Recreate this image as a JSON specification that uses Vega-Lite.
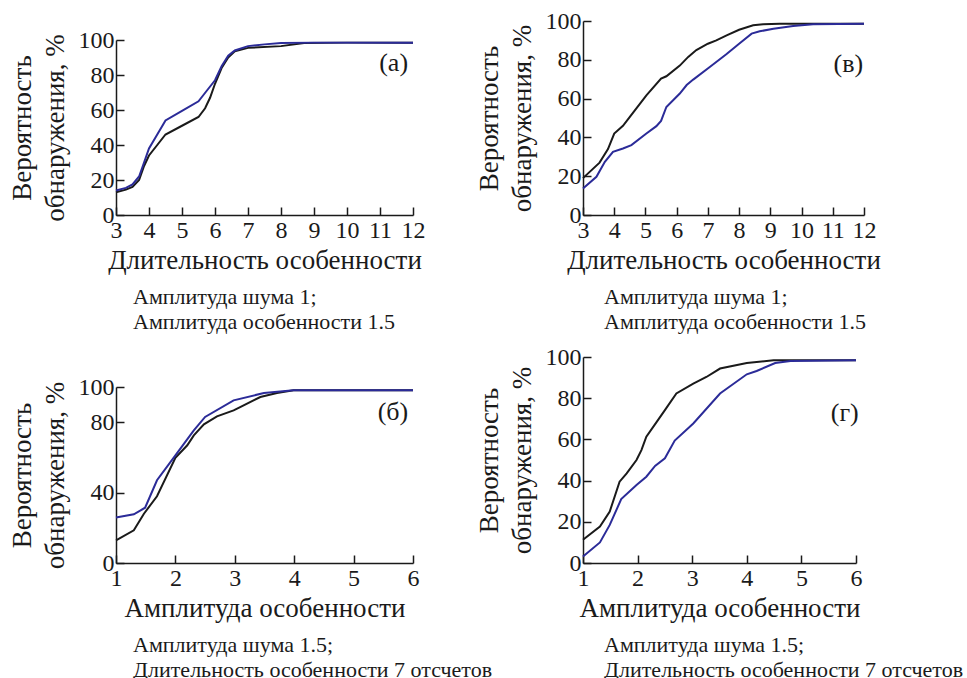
{
  "$schema": "https://vega.github.io/schema/vega-lite/v6.json",
  "background": "white",
  "padding": {"left": 8, "top": 9, "right": 5, "bottom": 12},
  "config": {
    "font": "Liberation Serif",
    "view": {"stroke": null},
    "axis": {
      "grid": false,
      "domainColor": "#1a1a1a",
      "domainWidth": 1.5,
      "tickColor": "#1a1a1a",
      "tickWidth": 1.5,
      "tickSize": -8,
      "labelOverlap": false,
      "labelFont": "Liberation Serif",
      "labelFontSize": 24,
      "labelColor": "#1a1a1a",
      "titleFont": "Liberation Serif",
      "titleFontSize": 27,
      "titleFontWeight": "normal",
      "titleColor": "#1a1a1a"
    },
    "axisX": {"labelPadding": 11, "titlePadding": 5, "labelFlush": false, "format": "d"},
    "axisY": {"labelPadding": 10, "titlePadding": 9, "titleLineHeight": 33},
    "title": {"font": "Liberation Serif", "fontSize": 22, "fontWeight": "normal", "color": "#1a1a1a", "lineHeight": 25}
  },
  "datasets": {
    "a": [
      {"x": 3, "p": 13, "s": "black"}, {"x": 3.3, "p": 14.5, "s": "black"}, {"x": 3.5, "p": 16, "s": "black"}, {"x": 3.7, "p": 20, "s": "black"}, {"x": 3.85, "p": 28, "s": "black"}, {"x": 4, "p": 34, "s": "black"}, {"x": 4.25, "p": 40, "s": "black"}, {"x": 4.5, "p": 46, "s": "black"}, {"x": 5, "p": 51, "s": "black"}, {"x": 5.5, "p": 56, "s": "black"}, {"x": 5.7, "p": 61, "s": "black"}, {"x": 5.85, "p": 67, "s": "black"}, {"x": 6, "p": 75, "s": "black"}, {"x": 6.2, "p": 84, "s": "black"}, {"x": 6.4, "p": 90, "s": "black"}, {"x": 6.6, "p": 93.5, "s": "black"}, {"x": 7, "p": 95.5, "s": "black"}, {"x": 8, "p": 96.5, "s": "black"}, {"x": 8.7, "p": 98.3, "s": "black"}, {"x": 10, "p": 98.5, "s": "black"}, {"x": 12, "p": 98.5, "s": "black"},
      {"x": 3, "p": 14, "s": "blue"}, {"x": 3.3, "p": 15.5, "s": "blue"}, {"x": 3.5, "p": 17.5, "s": "blue"}, {"x": 3.7, "p": 22, "s": "blue"}, {"x": 3.85, "p": 30, "s": "blue"}, {"x": 4, "p": 38, "s": "blue"}, {"x": 4.25, "p": 46, "s": "blue"}, {"x": 4.5, "p": 54, "s": "blue"}, {"x": 5, "p": 59.5, "s": "blue"}, {"x": 5.5, "p": 65, "s": "blue"}, {"x": 5.75, "p": 71, "s": "blue"}, {"x": 6, "p": 77, "s": "blue"}, {"x": 6.2, "p": 85, "s": "blue"}, {"x": 6.4, "p": 91, "s": "blue"}, {"x": 6.6, "p": 94, "s": "blue"}, {"x": 7, "p": 96.5, "s": "blue"}, {"x": 7.5, "p": 97.5, "s": "blue"}, {"x": 8, "p": 98.3, "s": "blue"}, {"x": 9, "p": 98.5, "s": "blue"}, {"x": 12, "p": 98.5, "s": "blue"}
    ],
    "v": [
      {"x": 3, "p": 19, "s": "black"}, {"x": 3.53, "p": 27, "s": "black"}, {"x": 3.8, "p": 34, "s": "black"}, {"x": 4, "p": 42, "s": "black"}, {"x": 4.28, "p": 46, "s": "black"}, {"x": 4.5, "p": 50.6, "s": "black"}, {"x": 5.03, "p": 61.7, "s": "black"}, {"x": 5.5, "p": 70.3, "s": "black"}, {"x": 5.67, "p": 71.5, "s": "black"}, {"x": 6.1, "p": 77, "s": "black"}, {"x": 6.37, "p": 81.5, "s": "black"}, {"x": 6.63, "p": 85, "s": "black"}, {"x": 7, "p": 88.3, "s": "black"}, {"x": 7.27, "p": 90, "s": "black"}, {"x": 7.6, "p": 92.6, "s": "black"}, {"x": 8, "p": 95.5, "s": "black"}, {"x": 8.45, "p": 97.8, "s": "black"}, {"x": 8.77, "p": 98.3, "s": "black"}, {"x": 9.3, "p": 98.6, "s": "black"}, {"x": 12, "p": 98.6, "s": "black"},
      {"x": 3, "p": 13.7, "s": "blue"}, {"x": 3.43, "p": 19.7, "s": "blue"}, {"x": 3.7, "p": 27.4, "s": "blue"}, {"x": 3.96, "p": 32.6, "s": "blue"}, {"x": 4.28, "p": 34.3, "s": "blue"}, {"x": 4.55, "p": 36, "s": "blue"}, {"x": 5.03, "p": 42, "s": "blue"}, {"x": 5.35, "p": 45.8, "s": "blue"}, {"x": 5.5, "p": 48.5, "s": "blue"}, {"x": 5.67, "p": 55.7, "s": "blue"}, {"x": 6.1, "p": 62.6, "s": "blue"}, {"x": 6.32, "p": 67, "s": "blue"}, {"x": 6.53, "p": 69.8, "s": "blue"}, {"x": 7.06, "p": 76.3, "s": "blue"}, {"x": 7.6, "p": 83, "s": "blue"}, {"x": 8, "p": 88.3, "s": "blue"}, {"x": 8.4, "p": 93.5, "s": "blue"}, {"x": 8.66, "p": 94.7, "s": "blue"}, {"x": 9.1, "p": 96, "s": "blue"}, {"x": 9.73, "p": 97.4, "s": "blue"}, {"x": 10.37, "p": 98.3, "s": "blue"}, {"x": 12, "p": 98.6, "s": "blue"}
    ],
    "b": [
      {"x": 1, "p": 12.9, "s": "black"}, {"x": 1.3, "p": 18.6, "s": "black"}, {"x": 1.47, "p": 28, "s": "black"}, {"x": 1.69, "p": 37.9, "s": "black"}, {"x": 2, "p": 59.8, "s": "black"}, {"x": 2.2, "p": 66.9, "s": "black"}, {"x": 2.31, "p": 72.5, "s": "black"}, {"x": 2.48, "p": 78.8, "s": "black"}, {"x": 2.7, "p": 83.3, "s": "black"}, {"x": 2.98, "p": 86.7, "s": "black"}, {"x": 3.09, "p": 88.6, "s": "black"}, {"x": 3.43, "p": 94.3, "s": "black"}, {"x": 3.71, "p": 96.6, "s": "black"}, {"x": 3.99, "p": 98.1, "s": "black"}, {"x": 6, "p": 98.1, "s": "black"},
      {"x": 1, "p": 25.8, "s": "blue"}, {"x": 1.3, "p": 27.7, "s": "blue"}, {"x": 1.49, "p": 31.4, "s": "blue"}, {"x": 1.69, "p": 47, "s": "blue"}, {"x": 2, "p": 61.2, "s": "blue"}, {"x": 2.31, "p": 75.4, "s": "blue"}, {"x": 2.5, "p": 83, "s": "blue"}, {"x": 2.98, "p": 92.4, "s": "blue"}, {"x": 3.49, "p": 96.6, "s": "blue"}, {"x": 3.99, "p": 98.1, "s": "blue"}, {"x": 6, "p": 98.1, "s": "blue"}
    ],
    "g": [
      {"x": 1, "p": 11.3, "s": "black"}, {"x": 1.31, "p": 17.7, "s": "black"}, {"x": 1.49, "p": 25, "s": "black"}, {"x": 1.67, "p": 39.5, "s": "black"}, {"x": 1.8, "p": 43.5, "s": "black"}, {"x": 1.98, "p": 50, "s": "black"}, {"x": 2.07, "p": 54.8, "s": "black"}, {"x": 2.16, "p": 61.3, "s": "black"}, {"x": 2.35, "p": 68.5, "s": "black"}, {"x": 2.5, "p": 74.2, "s": "black"}, {"x": 2.71, "p": 82.3, "s": "black"}, {"x": 3.02, "p": 87.1, "s": "black"}, {"x": 3.26, "p": 90.3, "s": "black"}, {"x": 3.51, "p": 94.4, "s": "black"}, {"x": 4, "p": 97.1, "s": "black"}, {"x": 4.49, "p": 98.4, "s": "black"}, {"x": 6, "p": 98.4, "s": "black"},
      {"x": 1, "p": 3.2, "s": "blue"}, {"x": 1.31, "p": 10, "s": "blue"}, {"x": 1.49, "p": 18.5, "s": "blue"}, {"x": 1.7, "p": 31, "s": "blue"}, {"x": 1.98, "p": 37.9, "s": "blue"}, {"x": 2.16, "p": 41.9, "s": "blue"}, {"x": 2.32, "p": 47.1, "s": "blue"}, {"x": 2.5, "p": 50.8, "s": "blue"}, {"x": 2.68, "p": 59.4, "s": "blue"}, {"x": 3.02, "p": 67.7, "s": "blue"}, {"x": 3.51, "p": 82.3, "s": "blue"}, {"x": 4, "p": 91.6, "s": "blue"}, {"x": 4.18, "p": 93.2, "s": "blue"}, {"x": 4.52, "p": 97.1, "s": "blue"}, {"x": 4.8, "p": 98.1, "s": "blue"}, {"x": 6, "p": 98.4, "s": "blue"}
    ]
  },
  "columns": 2,
  "bounds": "flush",
  "spacing": {"column": 170, "row": 142},
  "concat": [
    {
      "width": 297, "height": 194,
      "title": {"text": ["Амплитуда шума 1;", "Амплитуда особенности 1.5"], "orient": "bottom", "anchor": "start", "frame": "group", "align": "left", "dx": 17, "offset": 14},
      "layer": [
        {
          "data": {"name": "a"},
          "mark": {"type": "line", "strokeWidth": 2},
          "encoding": {
            "x": {"field": "x", "type": "quantitative", "scale": {"domain": [3, 12], "nice": false}, "axis": {"values": [3,4,5,6,7,8,9,10,11,12], "tickCount": 20, "labelOverlap": false, "title": "Длительность особенности"}},
            "y": {"field": "p", "type": "quantitative", "scale": {"domain": [0, 100], "nice": false, "range": [194, 19]}, "axis": {"values": [0,20,40,60,80,100], "tickCount": 20, "labelOverlap": false, "title": ["Вероятность", "обнаружения, %"]}},
            "color": {"field": "s", "type": "nominal", "scale": {"domain": ["black", "blue"], "range": ["#1a1a1a", "#2b2b98"]}, "legend": null}
          }
        },
        {
          "data": {"values": [{"label": "(а)"}]},
          "mark": {"type": "text", "align": "right", "baseline": "middle", "fontSize": 26, "color": "#1a1a1a"},
          "encoding": {"x": {"datum": 11.85, "type": "quantitative"}, "y": {"datum": 87, "type": "quantitative"}, "text": {"field": "label"}}
        }
      ]
    },
    {
      "width": 281, "height": 194,
      "title": {"text": ["Амплитуда шума 1;", "Амплитуда особенности 1.5"], "orient": "bottom", "anchor": "start", "frame": "group", "align": "left", "dx": 21, "offset": 14},
      "layer": [
        {
          "data": {"name": "v"},
          "mark": {"type": "line", "strokeWidth": 2},
          "encoding": {
            "x": {"field": "x", "type": "quantitative", "scale": {"domain": [3, 12], "nice": false}, "axis": {"values": [3,4,5,6,7,8,9,10,11,12], "tickCount": 20, "labelOverlap": false, "title": "Длительность особенности"}},
            "y": {"field": "p", "type": "quantitative", "scale": {"domain": [0, 100], "nice": false}, "axis": {"values": [0,20,40,60,80,100], "tickCount": 20, "labelOverlap": false, "title": ["Вероятность", "обнаружения, %"]}},
            "color": {"field": "s", "type": "nominal", "scale": {"domain": ["black", "blue"], "range": ["#1a1a1a", "#2b2b98"]}, "legend": null}
          }
        },
        {
          "data": {"values": [{"label": "(в)"}]},
          "mark": {"type": "text", "align": "right", "baseline": "middle", "fontSize": 26, "color": "#1a1a1a"},
          "encoding": {"x": {"datum": 11.97, "type": "quantitative"}, "y": {"datum": 78, "type": "quantitative"}, "text": {"field": "label"}}
        }
      ]
    },
    {
      "width": 297, "height": 206,
      "title": {"text": ["Амплитуда шума 1.5;", "Длительность особенности 7 отсчетов"], "orient": "bottom", "anchor": "start", "frame": "group", "align": "left", "dx": 17, "offset": 14},
      "layer": [
        {
          "data": {"name": "b"},
          "mark": {"type": "line", "strokeWidth": 2},
          "encoding": {
            "x": {"field": "x", "type": "quantitative", "scale": {"domain": [1, 6], "nice": false}, "axis": {"values": [1,2,3,4,5,6], "tickCount": 20, "labelOverlap": false, "title": "Амплитуда особенности"}},
            "y": {"field": "p", "type": "quantitative", "scale": {"domain": [0, 100], "nice": false, "range": [206, 30]}, "axis": {"values": [0,40,80,100], "tickCount": 20, "labelOverlap": false, "title": ["Вероятность", "обнаружения, %"]}},
            "color": {"field": "s", "type": "nominal", "scale": {"domain": ["black", "blue"], "range": ["#1a1a1a", "#2b2b98"]}, "legend": null}
          }
        },
        {
          "data": {"values": [{"label": "(б)"}]},
          "mark": {"type": "text", "align": "right", "baseline": "middle", "fontSize": 26, "color": "#1a1a1a"},
          "encoding": {"x": {"datum": 5.92, "type": "quantitative"}, "y": {"datum": 86, "type": "quantitative"}, "text": {"field": "label"}}
        }
      ]
    },
    {
      "width": 273, "height": 206,
      "title": {"text": ["Амплитуда шума 1.5;", "Длительность особенности 7 отсчетов"], "orient": "bottom", "anchor": "start", "frame": "group", "align": "left", "dx": 21, "offset": 14},
      "layer": [
        {
          "data": {"name": "g"},
          "mark": {"type": "line", "strokeWidth": 2},
          "encoding": {
            "x": {"field": "x", "type": "quantitative", "scale": {"domain": [1, 6], "nice": false}, "axis": {"values": [1,2,3,4,5,6], "tickCount": 20, "labelOverlap": false, "title": "Амплитуда особенности"}},
            "y": {"field": "p", "type": "quantitative", "scale": {"domain": [0, 100], "nice": false}, "axis": {"values": [0,20,40,60,80,100], "tickCount": 20, "labelOverlap": false, "title": ["Вероятность", "обнаружения, %"]}},
            "color": {"field": "s", "type": "nominal", "scale": {"domain": ["black", "blue"], "range": ["#1a1a1a", "#2b2b98"]}, "legend": null}
          }
        },
        {
          "data": {"values": [{"label": "(г)"}]},
          "mark": {"type": "text", "align": "right", "baseline": "middle", "fontSize": 26, "color": "#1a1a1a"},
          "encoding": {"x": {"datum": 6.05, "type": "quantitative"}, "y": {"datum": 73, "type": "quantitative"}, "text": {"field": "label"}}
        }
      ]
    }
  ]
}
